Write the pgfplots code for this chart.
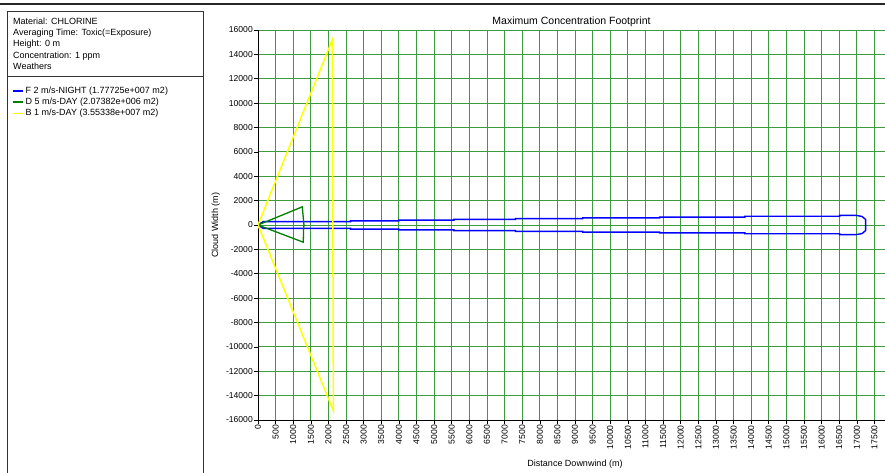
\documentclass[border=0pt]{standalone}
\usepackage{fontspec}
\setmainfont{Liberation Sans}
\usepackage{pgfplots}
\pgfplotsset{compat=1.18}
\definecolor{gridgreen}{RGB}{60,155,60}
\definecolor{fblue}{RGB}{0,0,255}
\definecolor{dgreen}{RGB}{0,128,0}
\definecolor{byellow}{RGB}{255,255,0}
\begin{document}
\begin{tikzpicture}[x=1pt,y=1pt]
\path[use as bounding box] (0pt,0pt) rectangle (885pt,-472pt);
\fill[white] (0pt,0pt) rectangle (885pt,-472pt);
\draw[line width=1.5pt, black!85] (0pt,-4pt) -- (885pt,-4pt);
\draw[line width=1pt, black!80] (7pt,-11pt) rectangle (203pt,-476pt);
\draw[line width=0.8pt, black!80] (7pt,-76pt) -- (203pt,-76pt);
\begin{scope}[every node/.style={anchor=base west, inner sep=0pt, font=\fontsize{9}{10}\selectfont}]
\node at (13pt,-24pt) {Material: CHLORINE};
\node at (13pt,-35.3pt) {Averaging Time: Toxic(=Exposure)};
\node at (13pt,-46.7pt) {Height: 0 m};
\node at (13pt,-58pt) {Concentration: 1 ppm};
\node at (13pt,-69.3pt) {Weathers};
\end{scope}
\node[font=\fontsize{10.5}{12}\selectfont, anchor=base] at (571.5pt,-24pt) {Maximum Concentration Footprint};
\node[font=\fontsize{9}{10}\selectfont, rotate=90, anchor=base] at (218pt,-225pt) {Cloud Width (m)};
\node[font=\fontsize{9}{10}\selectfont, anchor=base] at (575pt,-466pt) {Distance Downwind (m)};
\begin{axis}[
  at={(258pt,-420pt)}, anchor=south west,
  scale only axis, width=627pt, height=390pt,
  xmin=0, xmax=17800, ymin=-16000, ymax=16000,
  axis x line*=bottom, axis y line*=left,
  axis line style={-, black, line width=0.8pt},
  xtick distance=500, ytick distance=2000,
  grid=major, major grid style={gridgreen, line width=0.9pt},
  tick align=outside, major tick length=4pt,
  tick style={black, line width=0.6pt},
  scaled ticks=false,
  /pgf/number format/.cd, fixed, 1000 sep={}, assume math mode=true, /pgfplots/.cd,
  ticklabel style={font=\fontsize{8.6}{9}\selectfont},
  xticklabel style={rotate=90, anchor=east, inner sep=1pt},
  yticklabel style={inner sep=1pt},
  legend style={at={(axis description cs:-0.3917,0.859)}, anchor=north west,
    draw=none, fill=none, font=\fontsize{9}{10}\selectfont,
    row sep=0pt, inner sep=0pt, nodes={inner sep=1.6pt}},
  legend cell align=left,
  legend image code/.code={\path (0pt,0pt) -- (10pt,0pt);\draw[#1, line width=1.2pt] (0pt,0pt) -- (8pt,0pt);},
]
\addplot[fblue, line width=1.4pt] coordinates {
(0,0) (150,280) (2630,280) (2630,340) (4000,340) (4000,400) (5560,400) (5560,460)
(7310,460) (7310,520) (9220,520) (9220,590) (11400,590) (11400,650) (13820,650)
(13820,720) (16510,720) (16510,790) (16980,790) (17150,700) (17250,450)
(17250,-450) (17150,-700) (16980,-790) (16510,-790) (16510,-720) (13820,-720)
(13820,-650) (11400,-650) (11400,-590) (9220,-590) (9220,-520) (7310,-520)
(7310,-460) (5560,-460) (5560,-400) (4000,-400) (4000,-340) (2630,-340)
(2630,-280) (150,-280) (0,0)
};
\addlegendentry{F 2 m/s-NIGHT (1.77725e+007 m2)}
\addplot[dgreen, line width=1.3pt] coordinates {
(0,0) (1257,1490) (1295,300) (1305,0) (1295,-300) (1285,-1410) (0,0)
};
\addlegendentry{D 5 m/s-DAY (2.07382e+006 m2)}
\addplot[byellow, line width=1.5pt] coordinates {
(0,0) (2110,15200) (2140,-15250) (0,0)
};
\addlegendentry{B 1 m/s-DAY (3.55338e+007 m2)}
\end{axis}
\end{tikzpicture}
\end{document}
